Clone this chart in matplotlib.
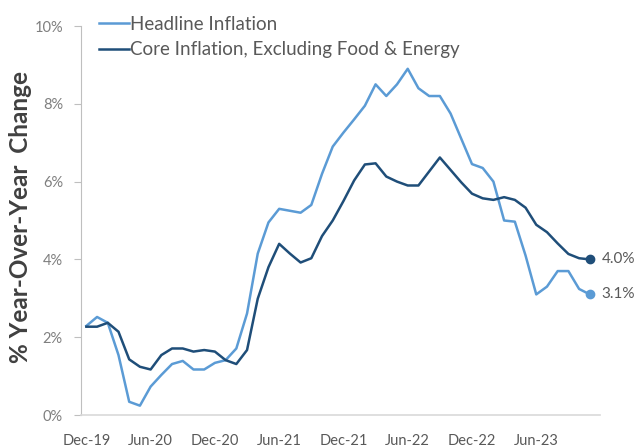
import numpy as np
import pandas as pd
import matplotlib
matplotlib.use("Agg")
import matplotlib.pyplot as plt
import matplotlib.ticker as ticker

plt.rcParams['font.family'] = ['Lato', 'DejaVu Sans']

# monthly, Dec-19 .. Nov-23
months = pd.date_range("2019-12-01", "2023-11-01", freq="MS")
headline = [2.29, 2.52, 2.37, 1.54, 0.34, 0.24, 0.73, 1.03, 1.31, 1.39, 1.17, 1.17,
            1.34, 1.41, 1.71, 2.61, 4.15, 4.95, 5.30, 5.25, 5.20, 5.40, 6.20, 6.90,
            7.26, 7.60, 7.95, 8.50, 8.20, 8.50, 8.90, 8.40, 8.20, 8.20, 7.75, 7.10,
            6.45, 6.35, 6.00, 5.00, 4.97, 4.10, 3.10, 3.30, 3.70, 3.70, 3.24, 3.10]
core = [2.27, 2.27, 2.37, 2.14, 1.43, 1.24, 1.17, 1.54, 1.71, 1.71, 1.63, 1.67,
        1.63, 1.41, 1.31, 1.67, 2.99, 3.80, 4.40, 4.15, 3.92, 4.03, 4.60, 5.00,
        5.50, 6.03, 6.44, 6.47, 6.13, 6.00, 5.90, 5.90, 6.26, 6.62, 6.30, 5.98,
        5.69, 5.57, 5.53, 5.60, 5.53, 5.33, 4.89, 4.70, 4.41, 4.14, 4.03, 4.00]
end_labels = ["3.1%", "4.0%"]

light_blue = '#5B9BD5'
dark_blue = '#1F4E79'
grey_txt = '#595959'

fig = plt.figure(figsize=(6.37, 4.48), dpi=100)
ax = fig.add_axes([81/637, 1 - 415/448, (600-81)/637, (415-26)/448])

x = np.arange(len(months))
h_line, = ax.plot(x, headline, color=light_blue, lw=1.8, label='Headline Inflation')
c_line, = ax.plot(x, core, color=dark_blue, lw=1.8, label='Core Inflation, Excluding Food & Energy')

ax.plot(x[-1], headline[-1], 'o', color=light_blue, ms=6)
ax.plot(x[-1], core[-1], 'o', color=dark_blue, ms=6)
ax.text(x[-1] + 1.1, headline[-1], end_labels[0], color=grey_txt, fontsize=11, va='center')
ax.text(x[-1] + 1.1, core[-1], end_labels[1], color=grey_txt, fontsize=11, va='center')

ax.set_xlim(-0.5, len(months) - 0.5 + 0.45)
ax.set_ylim(0, 10)
ax.yaxis.set_major_locator(ticker.MultipleLocator(2))
ax.yaxis.set_major_formatter(ticker.FuncFormatter(lambda v, p: f'{v:.0f}%'))

tick_pos = x[::6]
ax.set_xticks(tick_pos, [m.strftime('%b-%y') for m in months[::6]])
ax.tick_params(axis='x', length=0, pad=14, labelsize=10.5, labelcolor=grey_txt)
ax.tick_params(axis='y', length=5, width=0.8, color='#BFBFBF', pad=8,
               labelsize=10.5, labelcolor='#7F7F7F')

for s in ['top', 'right']:
    ax.spines[s].set_visible(False)
ax.spines['left'].set_color('#BFBFBF')
ax.spines['bottom'].set_color('#D9D9D9')
ax.spines['bottom'].set_linewidth(1.2)

ax.set_ylabel('% Year-Over-Year  Change', fontsize=17.5, fontweight='bold',
              color='#404040', va='center')
ax.yaxis.set_label_coords(-60/519, 0.51)

leg = ax.legend(handles=[h_line, c_line], loc='upper left', bbox_to_anchor=(10/519, 1.045),
                frameon=False, fontsize=13.5, handlelength=1.6, handletextpad=0.1,
                labelspacing=0.45, borderaxespad=0)
for t in leg.get_texts():
    t.set_color(grey_txt)

fig.savefig('out.png', dpi=100)
